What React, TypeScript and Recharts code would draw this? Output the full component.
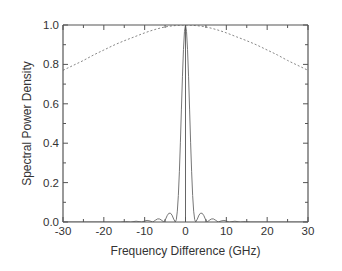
import React from 'react';
import { LineChart, Line, XAxis, YAxis } from 'recharts';

// Solid curve: spectral power density (x in GHz, y)
const solidX = [
  -30, -20, -16, -14.7, -13.4, -12.1, -10.7, -10.0, -9.4, -8.7, -8.0, -7.3, -6.8, -6.3, -5.8, -5.3,
  -4.9, -4.5, -4.1, -3.7, -3.3, -2.9, -2.5, -2.25, -2.0, -1.75, -1.5, -1.25, -1.0, -0.75, -0.5, -0.25,
  0, 0.25, 0.5, 0.75, 1.0, 1.25, 1.5, 1.75, 2.0, 2.25, 2.5, 2.9, 3.3, 3.7, 4.1, 4.5, 4.9, 5.3,
  5.8, 6.3, 6.8, 7.3, 8.0, 8.7, 9.4, 10.0, 10.7, 12.1, 13.4, 14.7, 16, 20, 30,
];
const solidY = [
  0, 0, 0, 0.002, 0, 0.004, 0, 0.005, 0.008, 0.005, 0, 0.01, 0.016, 0.015, 0.008, 0,
  0.013, 0.032, 0.044, 0.045, 0.035, 0.015, 0, 0.012, 0.055, 0.135, 0.255, 0.405, 0.573, 0.737, 0.875, 0.968,
  1.0, 0.968, 0.875, 0.737, 0.573, 0.405, 0.255, 0.135, 0.055, 0.012, 0, 0.015, 0.035, 0.045, 0.044, 0.032, 0.013, 0,
  0.008, 0.015, 0.016, 0.01, 0, 0.005, 0.008, 0.005, 0, 0.004, 0, 0.002, 0, 0, 0,
];

// Dashed curve: broad envelope
const dashX = [-30, -27.5, -25, -22.5, -20, -17.5, -15, -12.5, -10, -7.5, -5, -2.5, 0, 2.5, 5, 7.5, 10, 12.5, 15, 17.5, 20, 22.5, 25, 27.5, 30];
const dashY = [0.77, 0.795, 0.82, 0.848, 0.873, 0.898, 0.92, 0.94, 0.96, 0.977, 0.99, 0.997, 1.0, 0.997, 0.99, 0.977, 0.96, 0.94, 0.92, 0.898, 0.873, 0.848, 0.82, 0.795, 0.77];

// Stem at zero
const stemX = [0, 0];
const stemY = [0, 1.0];

const xMajor = [-30, -20, -10, 0, 10, 20, 30];
const xMajorLabels = ['-30', '-20', '-10', '0', '10', '20', '30'];
const xMinor = [-25, -15, -5, 5, 15, 25];
const yMajor = [0, 0.2, 0.4, 0.6, 0.8, 1.0];
const yMajorLabels = ['0.0', '0.2', '0.4', '0.6', '0.8', '1.0'];
const yMinor = [0.1, 0.3, 0.5, 0.7, 0.9];

const xTitle = 'Frequency Difference (GHz)';
const yTitle = 'Spectral Power Density';

const solidData = solidX.map((x, i) => ({ x, y: solidY[i] }));
const dashData = dashX.map((x, i) => ({ x, y: dashY[i] }));
const stemData = stemX.map((x, i) => ({ x, y: stemY[i] }));
const xTicks = [...xMajor, ...xMinor].sort((a, b) => a - b);
const yTicks = [...yMajor, ...yMinor].sort((a, b) => a - b);

const AXIS = '#555';
const TEXT = '#333';
const FONT = '"Liberation Sans", Arial, Helvetica, sans-serif';
const MAJ = 5;
const MIN = 3;

const BottomTick = (p: any) => {
  const { x, y, payload } = p;
  const idx = xMajor.indexOf(payload.value);
  const major = idx >= 0;
  return (
    <g>
      <line x1={x} x2={x} y1={y} y2={y - (major ? MAJ : MIN)} stroke={AXIS} strokeWidth={1} />
      {major && (
        <text x={x} y={y + 9} textAnchor="middle" dominantBaseline="central" fill={TEXT} fontSize={11.5} fontFamily={FONT}>
          {xMajorLabels[idx]}
        </text>
      )}
    </g>
  );
};

const TopTick = (p: any) => {
  const { x, y, payload } = p;
  const major = xMajor.indexOf(payload.value) >= 0;
  return <line x1={x} x2={x} y1={y} y2={y + (major ? MAJ : MIN)} stroke={AXIS} strokeWidth={1} />;
};

const LeftTick = (p: any) => {
  const { x, y, payload } = p;
  const idx = yMajor.indexOf(payload.value);
  const major = idx >= 0;
  return (
    <g>
      <line x1={x} x2={x + (major ? MAJ : MIN)} y1={y} y2={y} stroke={AXIS} strokeWidth={1} />
      {major && (
        <text x={x - 4} y={y} textAnchor="end" dominantBaseline="central" fill={TEXT} fontSize={11.5} fontFamily={FONT}>
          {yMajorLabels[idx]}
        </text>
      )}
    </g>
  );
};

const RightTick = (p: any) => {
  const { x, y, payload } = p;
  const major = yMajor.indexOf(payload.value) >= 0;
  return <line x1={x} x2={x - (major ? MAJ : MIN)} y1={y} y2={y} stroke={AXIS} strokeWidth={1} />;
};

export default function App() {
  return (
    <div style={{ position: 'absolute', left: 0, top: 0, background: '#fff' }}>
      <LineChart width={342} height={271} margin={{ top: 0, right: 0, bottom: 0, left: 0 }}>
        <XAxis
          xAxisId="b"
          dataKey="x"
          type="number"
          orientation="bottom"
          domain={[-30, 30]}
          ticks={xTicks}
          interval={0}
          height={49}
          tickSize={0}
          tickMargin={0}
          tickLine={false}
          axisLine={{ stroke: AXIS, strokeWidth: 1.2 }}
          tick={BottomTick}
          allowDataOverflow
          label={{
            content: () => (
              <text x={185.5} y={251} textAnchor="middle" dominantBaseline="central" fill={TEXT} fontSize={12} fontFamily={FONT}>
                {xTitle}
              </text>
            ),
          }}
        />
        <XAxis
          xAxisId="t"
          dataKey="x"
          type="number"
          orientation="top"
          domain={[-30, 30]}
          ticks={xTicks}
          interval={0}
          height={25}
          tickSize={0}
          tickMargin={0}
          tickLine={false}
          axisLine={{ stroke: AXIS, strokeWidth: 1.2 }}
          tick={TopTick}
          allowDataOverflow
        />
        <YAxis
          yAxisId="l"
          dataKey="y"
          type="number"
          orientation="left"
          domain={[0, 1]}
          ticks={yTicks}
          interval={0}
          width={63}
          tickSize={0}
          tickMargin={0}
          tickLine={false}
          axisLine={{ stroke: AXIS, strokeWidth: 1.2 }}
          tick={LeftTick}
          allowDataOverflow
          label={{
            content: () => (
              <text x={27} y={123.5} transform="rotate(-90 27 123.5)" textAnchor="middle" dominantBaseline="central" fill={TEXT} fontSize={12} fontFamily={FONT}>
                {yTitle}
              </text>
            ),
          }}
        />
        <YAxis
          yAxisId="r"
          dataKey="y"
          type="number"
          orientation="right"
          domain={[0, 1]}
          ticks={yTicks}
          interval={0}
          width={34}
          tickSize={0}
          tickMargin={0}
          tickLine={false}
          axisLine={{ stroke: AXIS, strokeWidth: 1.2 }}
          tick={RightTick}
          allowDataOverflow
        />
        <Line
          xAxisId="t"
          yAxisId="r"
          data={dashData}
          dataKey="y"
          type="monotone"
          stroke="#888"
          strokeWidth={1}
          strokeDasharray="2 2"
          dot={false}
          activeDot={false}
          isAnimationActive={false}
        />
        <Line
          xAxisId="b"
          yAxisId="l"
          data={solidData}
          dataKey="y"
          type="linear"
          stroke="#777"
          strokeWidth={1}
          dot={false}
          activeDot={false}
          isAnimationActive={false}
        />
        <Line
          xAxisId="b"
          yAxisId="l"
          data={stemData}
          dataKey="y"
          type="linear"
          stroke="#666"
          strokeWidth={1}
          dot={false}
          activeDot={false}
          isAnimationActive={false}
        />
      </LineChart>
    </div>
  );
}
